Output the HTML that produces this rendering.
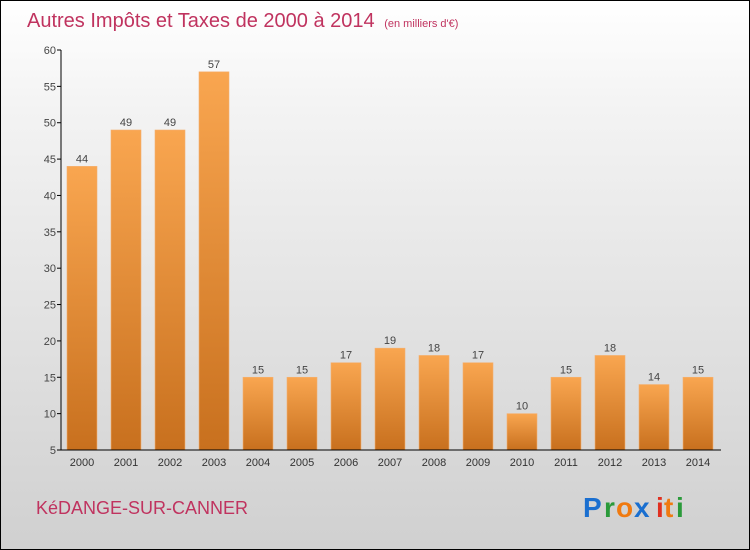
<!DOCTYPE html>
<html><head><meta charset="utf-8"><style>
html,body{margin:0;padding:0}
#wrap{position:relative;width:748px;height:548px;border:1px solid #000;background:linear-gradient(#ffffff,#f3f3f3 20%,#d0d0d0);font-family:"Liberation Sans",sans-serif;overflow:hidden}
</style></head><body>
<div id="wrap">
<svg width="748" height="548" xmlns="http://www.w3.org/2000/svg" id="chart">
<defs>
<linearGradient id="bg" x1="0" y1="0" x2="0" y2="1"><stop offset="0" stop-color="#f9a650"/><stop offset="1" stop-color="#c8701e"/></linearGradient>
</defs>
<text x="26" y="26" font-size="20" fill="#c0335f">Autres Impôts et Taxes de 2000 à 2014 <tspan font-size="11" dx="4">(en milliers d'€)</tspan></text>
<g id="bars"></g>
<g id="axes"></g>
<text x="35" y="513" font-size="18" fill="#c0335f">KéDANGE-SUR-CANNER</text>
<g font-size="28" font-weight="bold">
<text x="582" y="516" fill="#1a6fd0">P</text><text x="603" y="516" fill="#2a9a3a">r</text><text x="615" y="516" fill="#f07a10">o</text><text x="633" y="516" fill="#1a6fd0">x</text><text x="655" y="516" fill="#e03020">i</text><text x="663" y="516" fill="#f07a10">t</text><text x="675" y="516" fill="#2a9a3a">i</text>
</g>
</svg>
</div>
<script>
const years=["2000","2001","2002","2003","2004","2005","2006","2007","2008","2009","2010","2011","2012","2013","2014"];
const values=[44,49,49,57,15,15,17,19,18,17,10,15,18,14,15];
const yTicks=[5,10,15,20,25,30,35,40,45,50,55,60];
const NS="http://www.w3.org/2000/svg";
const yMin=5,yMax=60,y0=449,y1=49;
function ys(v){return y0-(v-yMin)*(y0-y1)/(yMax-yMin);}
function xs(i){return 81+i*44;}
const bars=document.getElementById('bars'),axes=document.getElementById('axes');
function mk(tag,attrs,parent){const e=document.createElementNS(NS,tag);for(const k in attrs)e.setAttribute(k,attrs[k]);parent.appendChild(e);return e;}
values.forEach((v,i)=>{
 const r=mk('rect',{x:xs(i)-15,y:ys(v),width:30,height:y0-ys(v),fill:'url(#bg)',stroke:'#f4b070','stroke-width':0.6},bars);
 
 
 const t=mk('text',{x:xs(i),y:ys(v)-4,'font-size':11,fill:'#444','text-anchor':'middle'},bars);t.textContent=v;
 
 
 const xl=mk('text',{x:xs(i),y:y0+16,'font-size':11,fill:'#333','text-anchor':'middle'},axes);xl.textContent=years[i];
 
 
});
const ya=mk('line',{x1:60,y1:y1,x2:60,y2:y0,stroke:'#000','stroke-width':1},axes);


const xa=mk('line',{x1:60,y1:y0,x2:720,y2:y0,stroke:'#000','stroke-width':1},axes);


yTicks.forEach(v=>{
 mk('line',{x1:56,y1:ys(v),x2:60,y2:ys(v),stroke:'#000'},axes);
 const t=mk('text',{x:55,y:ys(v)+4,'font-size':11,fill:'#444','text-anchor':'end'},axes);t.textContent=v;
 
 
});
</script>
</body></html>
